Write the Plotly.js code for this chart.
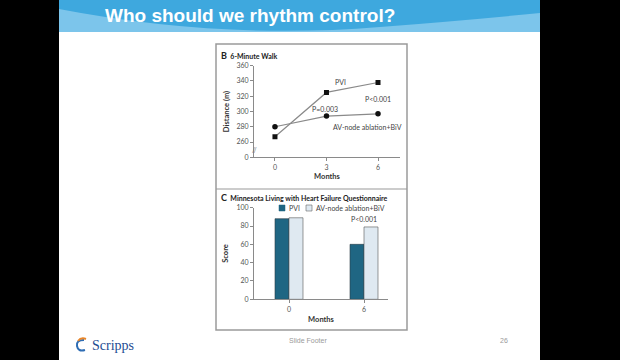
<!DOCTYPE html>
<html>
<head>
<meta charset="utf-8">
<script src="https://cdn.plot.ly/plotly-3.0.1.min.js"></script>
<style>html,body{margin:0;padding:0;background:#000;}#chart{width:620px;height:360px;}</style>
</head>
<body>
<div id="chart"></div>
<script>
// ---- data ----
const walkMonths = [0, 3, 6];
const walkPVI = [267, 325, 338];
const walkAV = [280, 294, 297];
const walkTickVals = [240, 260, 280, 300, 320, 340, 360];
const walkTickText = ['0', '260', '280', '300', '320', '340', '360'];
const mlhfMonths = [0, 6];
const mlhfPVI = [88, 60];
const mlhfAV = [89, 79];
const scoreTicks = [0, 20, 40, 60, 80, 100];
const seriesNames = ['PVI', 'AV-node ablation+BiV'];

// ---- helpers (pixel -> paper) ----
const W = 620, H = 360;
const px = x => x / W;
const py = y => 1 - y / H;

const FONT = 'Lato, "Open Sans", sans-serif';
const darkTeal = '#1f6683';
const lightBlue = '#dfe9f1';

const traces = [
  {x: walkMonths, y: walkPVI, name: seriesNames[0], type: 'scatter', mode: 'lines+markers',
   xaxis: 'x', yaxis: 'y', line: {color: '#8a8a8a', width: 1.2},
   marker: {symbol: 'square', size: 5, color: '#111'}, showlegend: false},
  {x: walkMonths, y: walkAV, name: seriesNames[1], type: 'scatter', mode: 'lines+markers',
   xaxis: 'x', yaxis: 'y', line: {color: '#8a8a8a', width: 1.2},
   marker: {symbol: 'circle', size: 5.5, color: '#111'}, showlegend: false},
  {x: mlhfMonths, y: mlhfPVI, name: seriesNames[0], type: 'bar', xaxis: 'x2', yaxis: 'y2',
   marker: {color: darkTeal, line: {color: '#2a3a44', width: 0.6}}, showlegend: false},
  {x: mlhfMonths, y: mlhfAV, name: seriesNames[1], type: 'bar', xaxis: 'x2', yaxis: 'y2',
   marker: {color: lightBlue, line: {color: '#555', width: 0.6}}, showlegend: false}
];

const axisCommon = {
  showline: true, linecolor: '#8a8a8a', linewidth: 1, ticks: 'outside', ticklen: 3,
  tickcolor: '#8a8a8a', tickfont: {family: FONT, size: 7, color: '#555'},
  showgrid: false, zeroline: false, fixedrange: true
};

const titleFont = {family: FONT, size: 7.5, color: '#333'};

const layout = {
  width: W, height: H,
  margin: {l: 0, r: 0, t: 0, b: 0},
  paper_bgcolor: '#000', plot_bgcolor: 'rgba(0,0,0,0)',
  showlegend: false,
  barmode: 'group', bargap: 0.627, bargroupgap: 0,
  xaxis: Object.assign({}, axisCommon, {
    domain: [px(254), px(400)], range: [-1.22, 7.28], anchor: 'y',
    tickvals: walkMonths, title: {text: '<b>Months</b>', font: titleFont, standoff: 4}
  }),
  yaxis: Object.assign({}, axisCommon, {
    domain: [py(157.3), py(65.7)], range: [240, 360], anchor: 'x',
    tickvals: walkTickVals, ticktext: walkTickText,
    title: {text: '<b>Distance (m)</b>', font: titleFont, standoff: 5}
  }),
  xaxis2: Object.assign({}, axisCommon, {
    domain: [px(254), px(388)], range: [-2.8, 7.92], anchor: 'y2',
    tickvals: mlhfMonths, title: {text: '<b>Months</b>', font: titleFont, standoff: 5}
  }),
  yaxis2: Object.assign({}, axisCommon, {
    domain: [py(299.3), py(207.7)], range: [0, 100], anchor: 'x2',
    tickvals: scoreTicks, title: {text: '<b>Score</b>', font: titleFont, standoff: 6}
  }),
  shapes: [
    // slide
    {type: 'rect', xref: 'paper', yref: 'paper', x0: px(59), x1: px(540), y0: 0, y1: 1,
     fillcolor: '#fff', line: {width: 0}, layer: 'below'},
    // header light band
    {type: 'rect', xref: 'paper', yref: 'paper', x0: px(59), x1: px(540), y0: py(32), y1: 1,
     fillcolor: '#7cc5eb', line: {width: 0}, layer: 'below'},
    // header dark wave
    {type: 'path', xref: 'paper', yref: 'paper', layer: 'below', fillcolor: '#3ea8de', line: {width: 0},
     path: `M${px(59)},${py(0)} L${px(59)},${py(9)} Q${px(220)},${py(40)} ${px(380)},${py(27)} Q${px(470)},${py(20)} ${px(540)},${py(13)} L${px(540)},${py(0)} Z`},
    // figure frame
    {type: 'rect', xref: 'paper', yref: 'paper', x0: px(216), x1: px(407), y0: py(330), y1: py(44),
     line: {color: '#9a9a9a', width: 1.5}, layer: 'below'},
    {type: 'line', xref: 'paper', yref: 'paper', x0: px(216), x1: px(407), y0: py(189), y1: py(189),
     line: {color: '#9a9a9a', width: 1.2}, layer: 'below'},
    // legend swatches (panel C)
    {type: 'rect', xref: 'paper', yref: 'paper', x0: px(279), x1: px(285), y0: py(211), y1: py(205),
     fillcolor: darkTeal, line: {color: darkTeal, width: 0.5}},
    {type: 'rect', xref: 'paper', yref: 'paper', x0: px(306), x1: px(312), y0: py(211), y1: py(205),
     fillcolor: lightBlue, line: {color: '#666', width: 0.6}},
    // scripps logo mark
    {type: 'path', xref: 'paper', yref: 'paper', fillcolor: 'rgba(0,0,0,0)', line: {color: '#2e6db4', width: 2},
     path: `M${px(84)},${py(340)} Q${px(76)},${py(340)} ${px(77)},${py(346)} Q${px(78)},${py(352)} ${px(85)},${py(350)}`},
    {type: 'path', xref: 'paper', yref: 'paper', fillcolor: 'rgba(0,0,0,0)', line: {color: '#e8862a', width: 2},
     path: `M${px(78)},${py(341)} Q${px(81)},${py(337)} ${px(86)},${py(339)}`}
  ],
  annotations: [
    {xref: 'paper', yref: 'paper', x: px(103), y: py(16), xanchor: 'left', yanchor: 'middle', showarrow: false,
     text: '<b>Who should we rhythm control?</b>', font: {family: '"Liberation Sans", Arial, sans-serif', size: 19, color: '#fff'}},
    {xref: 'paper', yref: 'paper', x: px(219), y: py(55), xanchor: 'left', yanchor: 'middle', showarrow: false,
     text: '<b><span style="font-size:9px">B</span>  6-Minute Walk</b>', font: {family: FONT, size: 7, color: '#222'}},
    {xref: 'paper', yref: 'paper', x: px(219), y: py(197), xanchor: 'left', yanchor: 'middle', showarrow: false,
     text: '<b><span style="font-size:9px">C</span>  Minnesota Living with Heart Failure Questionnaire</b>', font: {family: FONT, size: 7, color: '#222'}},
    {xref: 'x', yref: 'y', x: 3.84, y: 339, showarrow: false, text: 'PVI', font: {family: FONT, size: 7, color: '#444'}},
    {xref: 'x', yref: 'y', x: 6.0, y: 316, showarrow: false, text: 'P<0.001', font: {family: FONT, size: 7, color: '#444'}},
    {xref: 'x', yref: 'y', x: 2.91, y: 303, showarrow: false, text: 'P=0.003', font: {family: FONT, size: 7, color: '#444'}},
    {xref: 'x', yref: 'y', x: 5.36, y: 280, showarrow: false, text: 'AV-node ablation+BiV', font: {family: FONT, size: 7, color: '#444'}},
    {xref: 'x2', yref: 'y2', x: 6.0, y: 87.5, showarrow: false, text: 'P<0.001', font: {family: FONT, size: 7, color: '#444'}},
    {xref: 'paper', yref: 'paper', x: px(287), y: py(208), xanchor: 'left', yanchor: 'middle', showarrow: false,
     text: seriesNames[0], font: {family: FONT, size: 7, color: '#444'}},
    {xref: 'paper', yref: 'paper', x: px(314), y: py(208), xanchor: 'left', yanchor: 'middle', showarrow: false,
     text: seriesNames[1], font: {family: FONT, size: 7, color: '#444'}},
    {xref: 'paper', yref: 'paper', x: px(254), y: py(149.5), showarrow: false, text: '//',
     font: {family: FONT, size: 7, color: '#777'}},
    {xref: 'paper', yref: 'paper', x: px(90), y: py(345), xanchor: 'left', yanchor: 'middle', showarrow: false,
     text: 'Scripps', font: {family: '"Liberation Serif", serif', size: 14, color: '#1d4b92'}},
    {xref: 'paper', yref: 'paper', x: px(308), y: py(346), showarrow: false,
     text: 'Slide Footer', font: {family: '"Liberation Sans", Arial, sans-serif', size: 7, color: '#9a9a9a'}},
    {xref: 'paper', yref: 'paper', x: px(510), y: py(346), showarrow: false,
     text: '26', font: {family: '"Liberation Sans", Arial, sans-serif', size: 7, color: '#9a9a9a'}}
  ]
};

Plotly.newPlot('chart', traces, layout, {staticPlot: true, displayModeBar: false});
</script>
</body>
</html>
